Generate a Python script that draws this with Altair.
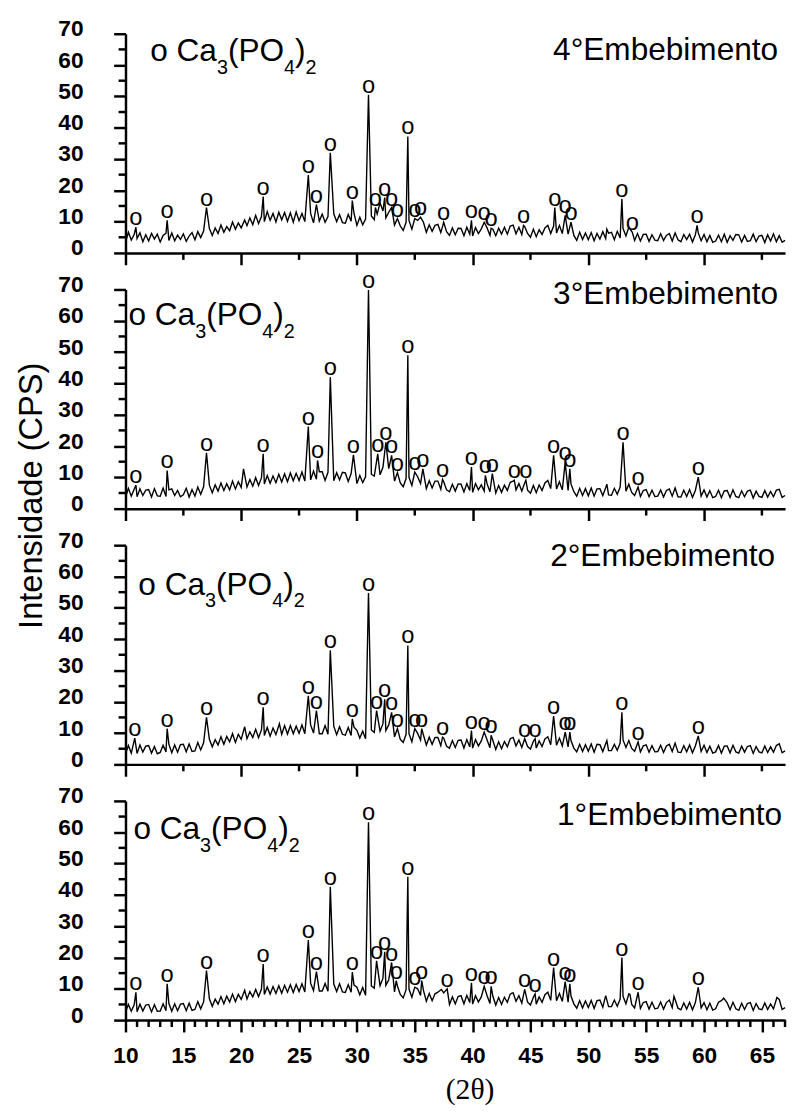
import altair as alt
import pandas as pd

# ---------------- data ----------------
X_MIN, X_MAX = 10, 67
Y_MIN, Y_MAX = 0, 70
GRID_START, GRID_STEP = 10.0, 0.25   # sampling grid of the digitised background

PANEL_NAMES = ["4°Embebimento", "3°Embebimento", "2°Embebimento", "1°Embebimento"]

# background (noise) of each pattern, one value every 0.25 deg from 10 to 67
BASE_4 = [
    3.4, 6.6, 4.1, 5.9, 4.6, 6.4, 3.6, 5.8, 3.8, 6.2, 4.4, 6.0, 3.5, 5.6, 6.3, 4.0,
    6.4, 3.9, 5.7, 4.3, 6.1, 3.7, 5.4, 6.5, 4.2, 6.8, 4.9, 7.0, 5.1, 7.8, 5.6, 8.0,
    6.2, 8.9, 6.6, 8.4, 7.1, 9.9, 7.6, 9.6, 8.0, 10.8, 8.7, 11.2, 9.0, 12.0, 9.4, 11.6,
    10.0, 13.2, 10.4, 12.6, 9.9, 13.0, 10.6, 12.9, 10.1, 12.8, 9.8, 13.1, 10.3, 12.6, 10.0, 12.4,
    12.6, 9.6, 12.2, 10.2, 12.4, 9.8, 11.6, 9.4, 12.5, 10.0, 12.2, 9.7, 9.5, 12.3, 10.1, 12.6,
    8.8, 11.4, 9.0, 10.8, 9.0, 11.8, 10.6, 12.4, 11.0, 13.4, 11.2, 13.0, 11.4, 8.9, 11.0, 8.6,
    7.2, 9.8, 10.4, 7.6, 8.0, 10.4, 8.2, 9.8, 6.6, 9.0, 6.9, 8.8, 9.1, 6.5, 8.6, 6.8,
    5.6, 8.0, 5.8, 7.9, 7.8, 5.5, 8.2, 6.0, 5.4, 8.1, 6.2, 7.7, 5.8, 8.0, 5.6, 7.6,
    5.5, 7.9, 6.0, 8.2, 6.0, 8.6, 8.9, 6.1, 8.2, 5.9, 8.4, 6.2, 5.0, 7.6, 5.2, 7.4,
    5.9, 8.0, 8.8, 6.2, 8.6, 6.4, 8.8, 6.2, 8.4, 6.0, 7.8, 5.6, 4.0, 6.6, 4.3, 6.4,
    4.2, 6.5, 3.9, 6.2, 4.4, 6.8, 4.6, 6.3, 6.6, 4.2, 6.9, 4.8, 7.8, 5.4, 8.2, 5.8,
    4.0, 6.2, 3.8, 5.9, 6.0, 3.7, 5.8, 4.1, 3.9, 6.1, 4.0, 5.6, 6.2, 3.8, 6.0, 4.2,
    3.6, 5.9, 4.3, 6.0, 3.5, 5.8, 6.4, 3.9, 5.9, 3.6, 5.6, 3.4, 3.8, 5.7, 3.6, 6.0,
    3.4, 5.5, 4.0, 5.9, 5.8, 3.5, 5.6, 3.7, 3.9, 6.0, 3.6, 5.4, 5.6, 3.3, 5.8, 3.8,
    6.1, 3.6, 5.5, 3.4, 4.0,
]
BASE_3 = [
    3.6, 6.5, 4.0, 6.2, 3.8, 6.3, 4.2, 5.9, 6.1, 3.7, 6.4, 4.1, 4.0, 6.6, 3.9, 6.0,
    6.3, 4.2, 5.8, 3.8, 4.4, 6.5, 3.7, 6.1, 4.0, 6.9, 4.6, 7.0, 5.0, 7.5, 5.1, 7.6,
    5.6, 8.2, 5.8, 8.0, 6.0, 8.8, 6.3, 8.6, 6.8, 9.4, 6.9, 9.3, 7.2, 9.9, 7.4, 9.8,
    7.9, 10.6, 8.1, 10.4, 8.3, 11.0, 8.5, 11.1, 8.6, 11.4, 8.9, 11.3, 9.0, 11.7, 8.8, 11.6,
    9.2, 12.0, 9.4, 11.8, 11.8, 9.0, 11.6, 9.3, 8.9, 11.5, 9.2, 11.6, 11.4, 8.7, 11.2, 8.9,
    8.0, 10.6, 8.3, 10.2, 8.6, 11.0, 10.4, 12.0, 10.8, 13.2, 11.0, 12.8, 11.2, 8.8, 10.8, 8.2,
    7.0, 9.6, 10.0, 7.4, 7.6, 10.2, 8.0, 9.6, 6.4, 8.9, 6.6, 8.8, 8.8, 6.2, 8.6, 6.0,
    5.4, 7.8, 5.6, 7.9, 7.8, 5.3, 8.0, 5.8, 5.2, 8.0, 6.0, 7.6, 5.6, 7.9, 5.4, 7.6,
    5.0, 7.4, 5.2, 7.5, 5.8, 8.4, 8.8, 6.0, 8.0, 5.6, 8.2, 5.9, 4.9, 7.4, 5.1, 7.6,
    5.8, 8.2, 9.0, 6.4, 8.8, 6.3, 8.6, 6.0, 8.2, 5.8, 7.9, 5.4, 4.0, 6.5, 4.2, 6.4,
    4.1, 6.6, 4.0, 6.3, 6.4, 4.2, 6.7, 4.4, 4.3, 6.5, 4.6, 6.9, 8.0, 5.6, 7.8, 5.2,
    4.2, 6.4, 3.9, 5.8, 6.1, 3.8, 5.9, 3.9, 4.0, 6.0, 3.7, 5.8, 6.3, 4.0, 6.1, 3.8,
    3.7, 5.9, 3.9, 6.1, 3.6, 5.8, 6.6, 4.0, 6.0, 3.7, 5.7, 3.5, 3.9, 5.9, 3.5, 5.7,
    5.8, 3.6, 6.0, 3.9, 3.5, 5.7, 3.8, 5.6, 5.9, 3.4, 5.6, 3.9, 3.6, 5.8, 3.7, 5.5,
    3.8, 5.9, 6.2, 3.6, 4.2,
]
BASE_2 = [
    3.4, 6.0, 3.6, 5.9, 3.5, 6.2, 3.9, 5.8, 6.0, 3.6, 5.7, 3.4, 3.8, 6.1, 4.0, 6.4,
    3.7, 6.2, 3.9, 6.3, 6.4, 4.0, 6.5, 4.1, 4.3, 7.0, 4.6, 6.9, 5.4, 8.0, 5.6, 7.9,
    6.2, 8.8, 6.4, 8.9, 7.2, 9.8, 7.0, 9.6, 8.0, 10.6, 8.2, 10.4, 8.6, 11.2, 8.5, 11.0,
    9.2, 11.8, 9.0, 11.6, 9.5, 12.2, 9.6, 12.4, 9.7, 12.4, 9.8, 12.2, 9.9, 12.6, 9.8, 12.4,
    12.6, 10.0, 12.4, 9.8, 9.8, 12.4, 9.6, 12.2, 12.2, 9.5, 12.0, 9.6, 9.3, 11.8, 9.2, 11.9,
    10.9, 8.4, 10.6, 8.2, 8.6, 11.0, 10.2, 11.8, 10.6, 13.0, 10.8, 12.6, 11.0, 8.8, 10.6, 8.0,
    7.0, 9.6, 9.8, 7.2, 7.4, 9.9, 7.8, 9.4, 6.2, 8.7, 6.4, 8.6, 8.6, 6.0, 8.4, 5.8,
    5.2, 7.6, 5.4, 7.7, 7.8, 5.2, 7.9, 5.6, 5.2, 7.9, 5.9, 7.5, 5.4, 7.8, 5.3, 7.6,
    4.8, 7.2, 5.0, 7.3, 5.6, 8.2, 8.6, 5.9, 7.8, 5.4, 8.0, 5.7, 4.9, 7.4, 5.2, 7.5,
    5.7, 8.1, 8.8, 6.3, 8.5, 6.1, 8.4, 5.9, 8.0, 5.6, 7.6, 5.2, 4.0, 6.4, 4.1, 6.3,
    4.2, 6.5, 3.9, 6.4, 6.3, 4.1, 6.6, 4.4, 4.4, 6.4, 4.5, 6.8, 7.8, 5.4, 7.6, 5.1,
    4.2, 6.5, 4.0, 5.9, 6.2, 3.9, 6.0, 4.0, 4.1, 6.1, 3.8, 5.9, 6.4, 4.1, 6.2, 3.9,
    3.8, 6.0, 4.0, 6.2, 3.7, 5.9, 6.7, 4.1, 6.1, 3.8, 5.8, 3.6, 4.0, 6.0, 3.6, 5.8,
    5.9, 3.7, 6.1, 4.0, 3.6, 5.8, 3.9, 5.7, 6.0, 3.5, 5.7, 4.0, 3.7, 5.9, 3.8, 5.6,
    3.9, 6.0, 6.6, 3.7, 4.3,
]
BASE_1 = [
    2.6, 5.0, 2.8, 4.9, 2.7, 5.1, 2.9, 4.8, 5.0, 2.6, 4.9, 2.8, 2.9, 5.2, 3.0, 5.3,
    2.8, 5.2, 3.0, 5.1, 5.3, 3.0, 5.4, 3.1, 3.4, 5.9, 3.6, 5.8, 4.3, 6.8, 4.4, 6.7,
    5.1, 7.5, 5.2, 7.6, 5.8, 8.3, 5.9, 8.2, 6.6, 9.0, 6.7, 9.1, 7.4, 9.8, 7.5, 9.9,
    8.2, 10.6, 8.3, 10.7, 8.5, 11.0, 8.6, 11.1, 8.9, 11.3, 8.8, 11.4, 9.1, 11.6, 9.0, 11.5,
    11.8, 9.4, 11.9, 9.3, 9.3, 11.7, 9.2, 11.8, 11.5, 9.1, 11.6, 9.0, 8.8, 11.3, 8.9, 11.2,
    10.5, 8.1, 10.4, 7.9, 8.4, 10.9, 10.2, 12.0, 11.0, 13.4, 11.1, 12.9, 11.4, 9.0, 10.9, 8.2,
    7.1, 9.7, 9.9, 7.3, 7.5, 10.0, 7.9, 9.5, 6.0, 8.5, 6.2, 8.4, 8.9, 6.3, 8.7, 6.1,
    5.0, 7.4, 5.2, 7.5, 7.8, 5.2, 7.9, 5.6, 5.1, 7.8, 5.8, 7.4, 5.4, 7.8, 5.3, 7.6,
    4.8, 7.2, 5.0, 7.3, 5.7, 8.3, 8.7, 6.0, 7.8, 5.4, 8.0, 5.7, 4.8, 7.3, 5.1, 7.4,
    5.7, 8.1, 8.9, 6.3, 8.6, 6.2, 8.5, 6.0, 8.2, 5.7, 7.7, 5.2, 3.8, 6.2, 3.9, 6.1,
    4.0, 6.3, 3.7, 6.2, 6.4, 4.1, 6.9, 4.3, 4.3, 6.4, 4.4, 6.7, 7.6, 5.2, 8.4, 5.0,
    3.9, 6.2, 3.7, 5.6, 5.9, 3.5, 5.7, 3.6, 3.8, 5.8, 3.5, 5.6, 6.4, 4.0, 6.6, 3.8,
    3.3, 5.5, 3.5, 5.7, 3.3, 5.6, 6.5, 3.9, 5.6, 3.3, 5.4, 3.2, 3.6, 5.7, 6.2, 3.5,
    5.5, 3.3, 5.7, 3.6, 3.1, 5.4, 3.4, 5.3, 5.6, 3.1, 5.3, 3.6, 3.3, 5.5, 3.4, 5.2,
    3.6, 5.7, 6.6, 3.4, 4.0,
]

# diffraction peaks: position (2theta), top intensity, marked with "o" (1) or not (0)
PEAK_X_4 = [10.9, 13.6, 17.0, 20.3, 21.9, 25.8, 26.5, 27.7, 29.6, 31.0, 31.6, 32.0, 32.4, 33.0,
            33.5, 34.4, 35.0, 35.5, 37.5, 39.9, 41.0, 41.6, 44.4, 47.1, 48.0, 48.5, 51.6, 52.9,
            53.8, 57.5, 59.4]
PEAK_Y_4 = [8.2, 10.4, 14.5, 10.5, 18.0, 24.9, 15.4, 32.0, 16.7, 50.5, 14.5, 16.0, 17.7, 14.5,
            11.0, 37.2, 11.0, 11.4, 9.8, 10.4, 9.8, 7.9, 8.8, 14.5, 12.0, 9.8, 7.6, 17.3,
            6.6, 6.4, 8.8]
MARK_4 = [1, 1, 1, 0, 1, 1, 1, 1, 1, 1, 1, 0, 1, 1,
          1, 1, 1, 1, 1, 1, 1, 1, 1, 1, 1, 1, 0, 1,
          1, 0, 1]

PEAK_X_3 = [10.9, 13.6, 17.0, 20.2, 21.9, 25.8, 26.6, 27.7, 29.7, 31.0, 31.8, 32.5, 33.0, 33.5,
            34.4, 35.0, 35.7, 37.4, 39.9, 41.1, 41.7, 43.6, 44.6, 47.0, 48.0, 48.4, 51.6, 53.0,
            54.3, 57.5, 59.5]
PEAK_Y_3 = [7.5, 12.2, 17.8, 12.7, 17.5, 26.2, 15.4, 42.0, 17.2, 69.8, 17.5, 21.2, 17.0, 11.5,
            49.0, 11.7, 12.7, 9.4, 13.3, 10.6, 11.2, 9.1, 9.1, 17.0, 14.8, 12.7, 7.8, 21.2,
            6.9, 6.6, 10.1]
MARK_3 = [1, 1, 1, 0, 1, 1, 1, 1, 1, 1, 1, 1, 1, 1,
          1, 1, 1, 1, 1, 1, 1, 1, 1, 1, 1, 1, 0, 1,
          1, 0, 1]

PEAK_X_2 = [10.8, 13.6, 17.0, 20.3, 21.9, 23.3, 25.8, 26.5, 27.7, 29.6, 31.0, 31.7, 32.4, 33.0,
            33.5, 34.4, 35.0, 35.6, 37.4, 39.9, 41.0, 41.6, 44.5, 45.4, 47.0, 48.0, 48.4, 51.6,
            52.9, 54.3, 57.5, 59.5]
PEAK_Y_2 = [8.4, 11.4, 15.0, 12.0, 18.2, 13.0, 21.9, 17.2, 36.4, 14.5, 54.7, 17.2, 20.8, 16.6,
            11.4, 38.0, 11.4, 11.4, 8.7, 10.8, 10.3, 9.3, 8.2, 8.2, 15.4, 10.3, 10.3, 7.6,
            16.6, 7.2, 6.8, 9.1]
MARK_2 = [1, 1, 1, 0, 1, 0, 1, 1, 1, 1, 1, 1, 1, 1,
          1, 1, 1, 1, 1, 1, 1, 1, 1, 1, 1, 1, 1, 0,
          1, 1, 0, 1]

PEAK_X_1 = [10.9, 13.6, 17.0, 20.3, 21.9, 25.8, 26.5, 27.7, 29.6, 31.0, 31.7, 32.4, 33.0, 33.4,
            34.4, 35.0, 35.6, 37.3, 37.8, 39.9, 41.0, 41.6, 43.4, 44.5, 45.4, 47.0, 48.0, 48.4,
            51.5, 52.9, 53.6, 54.3, 57.4, 59.5, 61.7, 66.3]
PEAK_Y_1 = [8.9, 11.6, 15.8, 9.5, 17.9, 25.6, 15.5, 42.6, 15.3, 63.2, 18.9, 21.8, 18.4, 12.6,
            45.8, 10.5, 12.6, 9.8, 10.0, 11.9, 10.8, 10.8, 8.6, 9.8, 8.4, 16.8, 12.3, 11.6,
            7.8, 20.0, 8.2, 8.9, 7.6, 10.5, 7.0, 7.2]
MARK_1 = [1, 1, 1, 0, 1, 1, 1, 1, 1, 1, 1, 1, 1, 1,
          1, 1, 1, 0, 1, 1, 1, 1, 0, 1, 1, 1, 1, 1,
          0, 1, 0, 1, 0, 1, 0, 0]

# axis tick values
Y_MAJOR = [0, 10, 20, 30, 40, 50, 60, 70]
Y_MINOR = [5, 15, 25, 35, 45, 55, 65]
X_MAJOR_TOP = [10, 20, 30, 40, 50, 60]
X_MINOR_TOP = [15, 25, 35, 45, 55, 65]
X_MAJOR_BOTTOM = [10, 15, 20, 25, 30, 35, 40, 45, 50, 55, 60, 65]
X_MINOR_BOTTOM = [v for v in range(11, 68) if v % 5 != 0]

Y_TITLE = "Intensidade (CPS)"
X_TITLE = "(2θ)"
FORMULA = [("o Ca", "main"), ("3", "sub"), ("(PO", "main"), ("4", "sub"), (")", "main"), ("2", "sub")]

for b in (BASE_4, BASE_3, BASE_2, BASE_1):
    assert len(b) == 229

# ---------------- layout / style ----------------
W, H = 668, 222
SANS = "Liberation Sans"
SERIF = "Liberation Serif"
MAIN_FS, SUB_FS, SUB_DROP = 32, 20, 13
# advance widths (em) of the formula pieces in Arial/Liberation Sans metrics
PIECE_EM = {"o Ca": 2.112, "3": 0.556, "(PO": 1.778, "4": 0.556, ")": 0.333, "2": 0.556}

# per panel: formula start x / baseline, name right x / baseline (pixels in the panel)
FORMULA_POS = [(25, 28), (3, 36), (13, 50), (8, 39)]
NAME_POS = [(661, 27), (661, 15), (658, 21), (665, 24)]

xs = alt.Scale(domain=[X_MIN, X_MAX], nice=False, zero=False)
ys = alt.Scale(domain=[Y_MIN, Y_MAX], nice=False, zero=False)


def make_axis(values, size, orient, labels=False, pad=0, offset=0):
    kw = dict(values=values, tickSize=size, tickWidth=2.5, tickColor="black",
              domain=True, domainColor="black", domainWidth=2.5,
              labels=labels, title=None, grid=False, orient=orient)
    if labels:
        kw.update(labelFont=SANS, labelFontWeight="bold", labelFontSize=23,
                  labelColor="black", labelPadding=pad, labelFlush=False,
                  labelOverlap=False, labelOffset=offset)
    return alt.Axis(**kw)


def text_piece(txt, x, y, size, align="left", font=SANS, angle=0, baseline="alphabetic"):
    kw = dict(align=align, baseline=baseline, fontSize=size, font=font, color="black")
    if angle:
        kw["angle"] = angle
    return alt.Chart(pd.DataFrame({"t": [txt]})).mark_text(**kw).encode(
        text="t:N", x=alt.value(x), y=alt.value(y))


def panel(i, base, px, py, mk, bottom=False):
    grid = [GRID_START + GRID_STEP * k for k in range(len(base))]
    pts = [(x, y) for x, y in zip(grid, base) if all(abs(x - p) > 0.08 for p in px)]
    pts += list(zip(px, py))
    df = pd.DataFrame(pts, columns=["x", "y"]).sort_values("x").reset_index(drop=True)
    df["o"] = range(len(df))
    peaks = pd.DataFrame({"x": px, "y": py, "m": mk})
    peaks = peaks[peaks["m"] == 1]

    if bottom:
        x_axis = make_axis(X_MAJOR_BOTTOM, 12, "bottom", labels=True, pad=13)
        x_minor_vals = X_MINOR_BOTTOM
    else:
        x_axis = make_axis(X_MAJOR_TOP, 12, "bottom")
        x_minor_vals = X_MINOR_TOP
    y_axis = make_axis(Y_MAJOR, 12, "left", labels=True, pad=31, offset=-5)

    line = alt.Chart(df).mark_line(color="black", strokeWidth=1.4).encode(
        x=alt.X("x:Q", scale=xs, axis=x_axis),
        y=alt.Y("y:Q", scale=ys, axis=y_axis),
        order="o:Q")
    # minor ticks (short) placed through the shared scales
    y_minor = alt.Chart(pd.DataFrame({"y": Y_MINOR})).mark_rule(
        color="black", strokeWidth=2.5).encode(
        y=alt.Y("y:Q", scale=ys, axis=None), x=alt.value(-7), x2=alt.value(0))
    x_minor = alt.Chart(pd.DataFrame({"x": x_minor_vals})).mark_rule(
        color="black", strokeWidth=2.5).encode(
        x=alt.X("x:Q", scale=xs, axis=None), y=alt.value(H), y2=alt.value(H + 7))
    marks = alt.Chart(peaks).mark_text(text="o", fontSize=24, font=SANS, dy=-9,
                                       color="black", baseline="middle").encode(
        x=alt.X("x:Q", scale=xs, axis=None),
        y=alt.Y("y:Q", scale=ys, axis=None))

    layers = [line, y_minor, x_minor, marks]
    fx, fy = FORMULA_POS[i]
    cur = fx
    for txt, kind in FORMULA:
        size = MAIN_FS if kind == "main" else SUB_FS
        yy = fy if kind == "main" else fy + SUB_DROP
        layers.append(text_piece(txt, cur, yy, size))
        cur += PIECE_EM[txt] * size
    nx, ny = NAME_POS[i]
    layers.append(text_piece(PANEL_NAMES[i], nx, ny, 32, align="right"))
    if i == 1:
        layers.append(text_piece(Y_TITLE, -85, 209, 33, align="center", angle=270))
    if bottom:
        layers.append(text_piece(X_TITLE, 349, 293, 30, align="center", font=SERIF,
                                 baseline="middle"))
    return alt.layer(*layers).resolve_axis(x="independent", y="independent").properties(
        width=W, height=H)


panels = [
    panel(0, BASE_4, PEAK_X_4, PEAK_Y_4, MARK_4),
    panel(1, BASE_3, PEAK_X_3, PEAK_Y_3, MARK_3),
    panel(2, BASE_2, PEAK_X_2, PEAK_Y_2, MARK_2),
    panel(3, BASE_1, PEAK_X_1, PEAK_Y_1, MARK_1, bottom=True),
]

chart = alt.vconcat(*panels, spacing=37, bounds="flush").properties(
    padding={"left": 8, "top": 3, "right": 0, "bottom": 0}
).configure_view(stroke=None)

chart.save("out.html", embed_options={"renderer": "svg", "actions": False})
